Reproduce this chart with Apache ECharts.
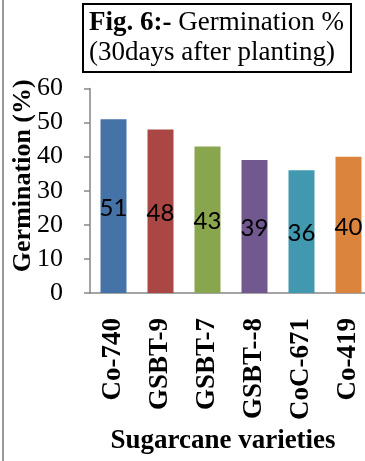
<!DOCTYPE html>
<html><head><meta charset="utf-8">
<script src="https://cdn.jsdelivr.net/npm/echarts@6/dist/echarts.min.js"></script>
<style>html,body{margin:0;padding:0;background:#fff}#c{width:365px;height:461px}</style>
</head><body><div id="c"></div>
<script>
const categories = ['Co-740','GSBT-9','GSBT-7','GSBT--8','CoC-671','Co-419'];
const values = [51, 48, 43, 39, 36, 40];
const colors = ['#4572A7','#AA4643','#89A54E','#71588F','#4198AF','#DB843D'];
const yTicks = [0, 10, 20, 30, 40, 50, 60];

const chart = echarts.init(document.getElementById('c'));
const serif = 'Liberation Serif';
chart.setOption({
  animation: false,
  title: {
    text: '{b|Fig. 6:-} Germination %\n(30days after planting)',
    left: 83, top: 4,
    padding: [4, 7, 4, 6],
    borderColor: '#000', borderWidth: 2,
    textStyle: {
      fontFamily: serif, fontSize: 27, fontWeight: 'normal', color: '#000', lineHeight: 30,
      rich: { b: { fontFamily: serif, fontSize: 27, fontWeight: 'bold', color: '#000', lineHeight: 30 } }
    }
  },
  graphic: [{
    type: 'rect', shape: { x: 2, y: 0, width: 2, height: 461 },
    style: { fill: '#999' }
  }],
  grid: { left: 90, width: 282, top: 88.5, bottom: 168, outerBoundsMode: 'none', containLabel: false },
  xAxis: {
    type: 'category', data: categories,
    name: 'Sugarcane varieties', nameLocation: 'middle', nameGap: 135,
    nameTextStyle: { fontFamily: serif, fontSize: 27, fontWeight: 'bold', color: '#000', padding: [0, 16, 0, 0] },
    axisLine: { lineStyle: { color: '#868686', width: 1.5 } },
    axisTick: { show: false },
    axisLabel: { rotate: 90, margin: 25, fontFamily: serif, fontSize: 27, fontWeight: 'bold', color: '#000' }
  },
  yAxis: {
    type: 'value', min: 0, max: 60, interval: 10,
    name: 'Germination (%)', nameLocation: 'middle', nameGap: 54, nameMoveOverlap: false,
    nameTextStyle: { fontFamily: serif, fontSize: 26, fontWeight: 'bold', color: '#000', padding: [0, 0, 0, 30] },
    axisLine: { show: true, lineStyle: { color: '#868686', width: 1.5 } },
    axisTick: { show: true, length: 6, lineStyle: { color: '#868686', width: 1.5 } },
    splitLine: { show: false },
    axisLabel: { margin: 27, fontFamily: serif, fontSize: 26, color: '#000',
      formatter: v => yTicks.includes(v) ? String(v) : '' }
  },
  series: [{
    type: 'bar', barWidth: 26,
    data: values.map((v, i) => ({ value: v, itemStyle: { color: colors[i] } })),
    label: { show: true, position: 'inside', offset: [0, 2], fontFamily: 'Lato', fontSize: 24, color: '#000' }
  }]
});
</script></body></html>
